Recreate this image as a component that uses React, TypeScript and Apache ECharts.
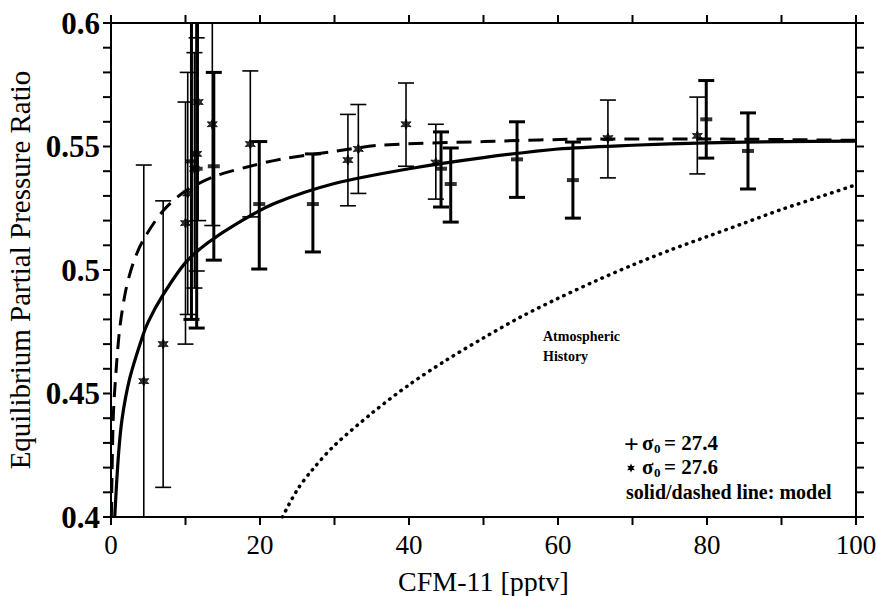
import React, { useEffect, useRef } from "react";
import * as echarts from "echarts";

// ---- data ----
// sigma0 = 27.4 ("+", thick error bars)
const plusX = [10.8, 11.5, 13.8, 19.9, 27.1, 44.3, 45.6, 54.5, 62.0, 79.9, 85.5];
const plusY = [0.544, 0.541, 0.542, 0.5267, 0.5267, 0.541, 0.5348, 0.5448, 0.5364, 0.561, 0.5482];
const plusLow = [0.48, 0.4765, 0.504, 0.5004, 0.5073, 0.5255, 0.5194, 0.5294, 0.521, 0.5453, 0.5328];
const plusHigh = [0.608, 0.606, 0.58, 0.552, 0.547, 0.5559, 0.5494, 0.56, 0.5518, 0.5767, 0.5636];

// sigma0 = 27.6 ("*", thin error bars)
const starX = [4.4, 7.0, 10.0, 10.3, 11.2, 11.5, 11.7, 13.6, 18.7, 31.8, 33.2, 39.6, 43.6, 66.7, 78.7];
const starY = [0.455, 0.47, 0.519, 0.531, 0.541, 0.547, 0.568, 0.559, 0.551, 0.5445, 0.549, 0.559, 0.5435, 0.5534, 0.5543];
const starLow = [0.37, 0.412, 0.47, 0.482, 0.4927, 0.4996, 0.52, 0.518, 0.5215, 0.526, 0.531, 0.542, 0.5287, 0.5373, 0.5389];
const starHigh = [0.5425, 0.528, 0.568, 0.58, 0.588, 0.594, 0.616, 0.6, 0.5806, 0.563, 0.567, 0.5757, 0.559, 0.5688, 0.57];

// model curves
const solidX = [0.5, 1, 1.5, 2.5, 4, 5, 7, 10, 13, 17, 22, 30, 40, 50, 60, 70, 80, 90, 100];
const solidY = [0.4, 0.425, 0.44, 0.456, 0.471, 0.479, 0.49, 0.503, 0.511, 0.519, 0.527, 0.535, 0.541, 0.5455, 0.549, 0.5505, 0.5515, 0.552, 0.5522];

const dashedX = [0.05, 0.3, 0.7, 1.2, 2, 3, 4.3, 7, 10, 14, 18, 23, 30, 36, 50, 65, 80, 100];
const dashedY = [0.4, 0.44, 0.46, 0.477, 0.492, 0.503, 0.512, 0.524, 0.532, 0.538, 0.5415, 0.545, 0.548, 0.5505, 0.552, 0.553, 0.553, 0.5525];

const dottedX = [23, 25, 27, 30, 35, 40, 45, 50, 55, 60, 65, 70, 75, 80, 85, 90, 95, 100];
const dottedY = [0.4, 0.411, 0.419, 0.429, 0.442, 0.4535, 0.4635, 0.4725, 0.481, 0.4885, 0.4955, 0.502, 0.508, 0.5135, 0.519, 0.5245, 0.5295, 0.5345];

// axes
const xMin = 0, xMax = 100, xStep = 20;
const yMin = 0.4, yMax = 0.6, yStep = 0.05;
const xTickMarks = [0, 10, 20, 30, 40, 50, 60, 70, 80, 90, 100];
const yTickMarks = [0.4, 0.41, 0.42, 0.43, 0.44, 0.45, 0.46, 0.47, 0.48, 0.49, 0.5, 0.51, 0.52, 0.53, 0.54, 0.55, 0.56, 0.57, 0.58, 0.59, 0.6];

const xTitle = "CFM-11 [pptv]";
const yTitle = "Equilibrium Partial Pressure Ratio";
const legend1 = "= 27.4";
const legend2 = "= 27.6";
const legend3 = "solid/dashed line: model";
const curveLabel = ["Atmospheric", "History"];

const FONT = "Liberation Serif";
const STAR = "path://M0,-10 L2.4,-4.2 L8.66,-5 L4.8,0 L8.66,5 L2.4,4.2 L0,10 L-2.4,4.2 L-8.66,5 L-4.8,0 L-8.66,-5 L-2.4,-4.2 Z";

function errorBars(width: number) {
  return (params: any, api: any) => {
    const x = api.value(0);
    const lo = api.coord([x, api.value(1)]);
    const hi = api.coord([x, api.value(2)]);
    const cap = 8;
    const style = { stroke: "#000", lineWidth: width };
    return {
      type: "group",
      children: [
        { type: "line", shape: { x1: lo[0], y1: lo[1], x2: hi[0], y2: hi[1] }, style },
        { type: "line", shape: { x1: hi[0] - cap, y1: hi[1], x2: hi[0] + cap, y2: hi[1] }, style },
        { type: "line", shape: { x1: lo[0] - cap, y1: lo[1], x2: lo[0] + cap, y2: lo[1] }, style },
      ],
    };
  };
}

const TICK = 8;
const tickStyle = { stroke: "#000", lineWidth: 2 };
function xTicksItem(params: any, api: any) {
  const v = api.value(0);
  const b = api.coord([v, yMin]);
  const t = api.coord([v, yMax]);
  return {
    type: "group",
    children: [
      { type: "line", shape: { x1: b[0], y1: b[1], x2: b[0], y2: b[1] + TICK }, style: tickStyle },
      { type: "line", shape: { x1: t[0], y1: t[1], x2: t[0], y2: t[1] - TICK }, style: tickStyle },
    ],
  };
}
function yTicksItem(params: any, api: any) {
  const v = api.value(1);
  const l = api.coord([xMin, v]);
  const r = api.coord([xMax, v]);
  return {
    type: "group",
    children: [
      { type: "line", shape: { x1: l[0], y1: l[1], x2: l[0] - TICK, y2: l[1] }, style: tickStyle },
      { type: "line", shape: { x1: r[0], y1: r[1], x2: r[0] + TICK, y2: r[1] }, style: tickStyle },
    ],
  };
}

const zip = (a: number[], b: number[]) => a.map((v, i) => [v, b[i]]);

export default function App() {
  const ref = useRef<HTMLDivElement>(null);
  useEffect(() => {
    if (!ref.current) return;
    const chart = echarts.init(ref.current, null, { renderer: "svg" });
    const mk = () => ({
      axisLine: { show: true, onZero: false, lineStyle: { color: "#000", width: 2 } },
      axisTick: { show: false },
      minorTick: { show: false },
      splitLine: { show: false },
      minorSplitLine: { show: false },
    });
    const legendRow = (y: number, value: string) => [
      { type: "text", x: 642, y, style: { text: "σ", font: `bold 21px ${FONT}`, fill: "#000", verticalAlign: "middle" } },
      { type: "text", x: 654, y: y + 5, style: { text: "0", font: `bold 13px ${FONT}`, fill: "#000", verticalAlign: "middle" } },
      { type: "text", x: 664, y, style: { text: value, font: `bold 21px ${FONT}`, fill: "#000", verticalAlign: "middle" } },
    ];
    chart.setOption({
      animation: false,
      backgroundColor: "#fff",
      grid: { left: 111, right: 21, top: 23, bottom: 79, containLabel: false, outerBoundsMode: "none" },
      xAxis: [
        {
          type: "value", min: xMin, max: xMax, interval: xStep, ...mk(), position: "bottom",
          axisLabel: { show: true, margin: 14, fontSize: 27, fontFamily: FONT, color: "#000" },
          name: xTitle, nameLocation: "middle", nameGap: 50,
          nameTextStyle: { fontSize: 28, fontFamily: FONT, color: "#000" },
        },
        { type: "value", min: xMin, max: xMax, interval: xStep, ...mk(), position: "top", axisLabel: { show: false } },
      ],
      yAxis: [
        {
          type: "value", min: yMin, max: yMax, interval: yStep, ...mk(), position: "left",
          axisLabel: { show: true, margin: 11, fontSize: 31, fontWeight: "bold", fontFamily: FONT, color: "#000" },
          name: yTitle, nameLocation: "middle", nameGap: 70,
          nameTextStyle: { fontSize: 29, fontFamily: FONT, color: "#000" },
        },
        { type: "value", min: yMin, max: yMax, interval: yStep, ...mk(), position: "right", axisLabel: { show: false } },
      ],
      series: [
        {
          type: "custom", clip: false, renderItem: xTicksItem, silent: true,
          data: xTickMarks.map((v) => [v, yMin]),
        },
        {
          type: "custom", clip: false, renderItem: yTicksItem, silent: true,
          data: yTickMarks.map((v) => [xMin, v]),
        },
        {
          type: "line", data: zip(dottedX, dottedY), smooth: 0.3, showSymbol: false,
          lineStyle: { color: "#000", width: 3.5, type: [0.5, 6.5], cap: "round" },
        },
        {
          type: "line", data: zip(dashedX, dashedY), smooth: 0.3, showSymbol: false,
          lineStyle: { color: "#000", width: 3, type: [15, 9] },
        },
        {
          type: "line", data: zip(solidX, solidY), smooth: 0.3, showSymbol: false,
          lineStyle: { color: "#000", width: 3.2 },
        },
        {
          type: "custom", clip: true, renderItem: errorBars(1.6),
          encode: { x: 0, y: [1, 2] },
          data: starX.map((x, i) => [x, starLow[i], starHigh[i]]),
        },
        {
          type: "custom", clip: true, renderItem: errorBars(3),
          encode: { x: 0, y: [1, 2] },
          data: plusX.map((x, i) => [x, plusLow[i], plusHigh[i]]),
        },
        {
          type: "scatter", data: zip(plusX, plusY), symbol: "rect", symbolSize: [12, 4],
          itemStyle: { color: "#000" },
        },
        {
          type: "scatter", data: zip(starX, starY), symbol: STAR, symbolSize: 10,
          itemStyle: { color: "#000", borderColor: "#000", borderWidth: 1 },
        },
      ],
      graphic: [
        { type: "text", left: 543, top: 329, style: { text: curveLabel[0], font: `bold 14px ${FONT}`, fill: "#000" } },
        { type: "text", left: 543, top: 349, style: { text: curveLabel[1], font: `bold 14px ${FONT}`, fill: "#000" } },
        { type: "text", x: 624, y: 444, style: { text: "+", font: `bold 26px ${FONT}`, fill: "#000", verticalAlign: "middle" } },
        ...legendRow(443, legend1),
        {
          type: "polygon", x: 631, y: 468, scaleX: 0.45, scaleY: 0.45,
          shape: { points: [[0, -10], [2.4, -4.2], [8.66, -5], [4.8, 0], [8.66, 5], [2.4, 4.2], [0, 10], [-2.4, 4.2], [-8.66, 5], [-4.8, 0], [-8.66, -5], [-2.4, -4.2]] },
          style: { fill: "#000" },
        },
        ...legendRow(467, legend2),
        { type: "text", x: 626, y: 492, style: { text: legend3, font: `bold 20px ${FONT}`, fill: "#000", verticalAlign: "middle" } },
      ],
    });
    return () => chart.dispose();
  }, []);
  return <div ref={ref} style={{ position: "fixed", left: 0, top: 0, width: 877, height: 596 }} />;
}
